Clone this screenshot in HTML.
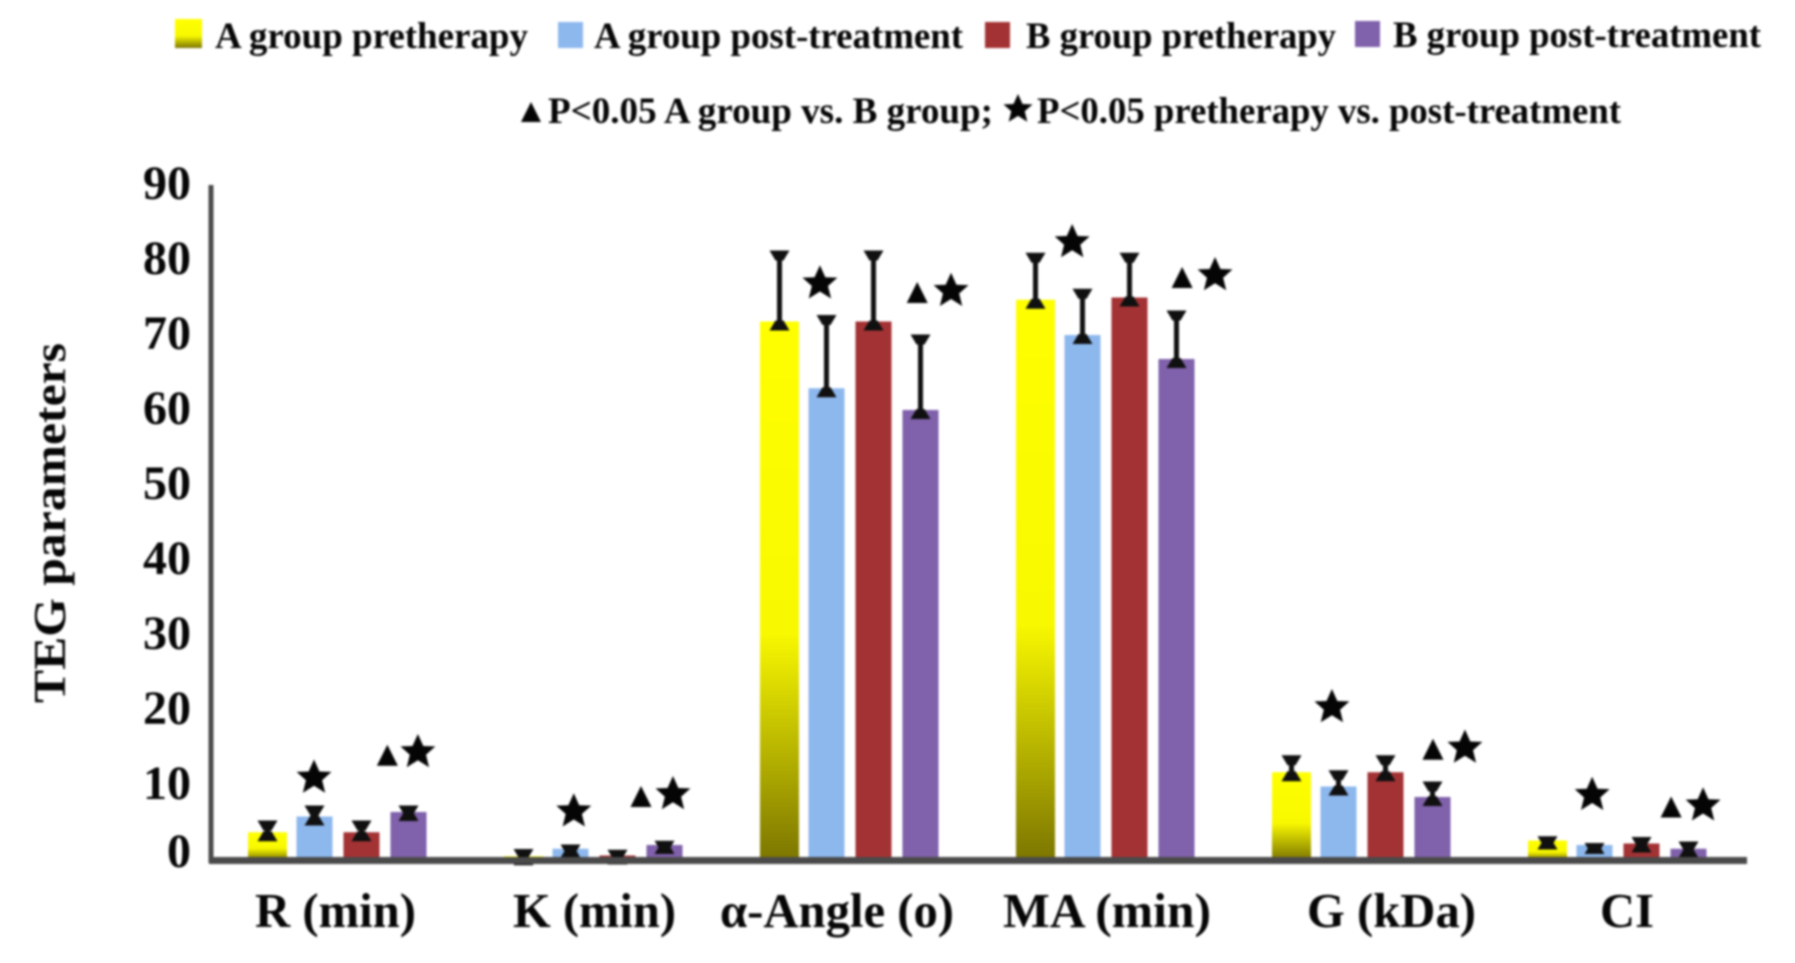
<!DOCTYPE html>
<html lang="en">
<head>
<meta charset="utf-8">
<title>TEG parameters by group</title>
<style>
  html, body { margin: 0; padding: 0; background: #ffffff; }
  body { width: 1795px; height: 963px; overflow: hidden; }
  svg { display: block; filter: blur(1px); }
  text { font-family: "Liberation Serif", "DejaVu Serif", serif; font-weight: bold; fill: #060606; }
  .legend-text { font-size: 37px; }
  .note-text { font-size: 37px; }
  .tick { font-size: 48px; }
  .cat { font-size: 49px; }
  .ytitle { font-size: 46px; }
</style>
</head>
<body>
<svg id="chart" xmlns="http://www.w3.org/2000/svg" width="1795" height="963" viewBox="0 0 1795 963">
  <defs>
    <linearGradient id="yellow-grad" x1="0" y1="0" x2="0" y2="1">
      <stop offset="0" stop-color="#ffff00"/>
      <stop offset="0.58" stop-color="#f8f800"/>
      <stop offset="1" stop-color="#7c7600"/>
    </linearGradient>
    <symbol id="star-shape" viewBox="-1 -1 2 2" overflow="visible">
      <polygon points="0,-1 0.3,-0.33 0.97,-0.31 0.45,0.15 0.62,0.85 0,0.46 -0.62,0.85 -0.45,0.15 -0.97,-0.31 -0.3,-0.33" fill="#050505"/>
    </symbol>
  </defs>

  <g>
    <rect x="175" y="19" width="27" height="29" fill="url(#yellow-grad)"/>
    <text class="legend-text" x="215" y="48" textLength="313" lengthAdjust="spacingAndGlyphs">A group pretherapy</text>
    <rect x="558" y="22" width="25" height="26" fill="#8db8ee"/>
    <text class="legend-text" x="594" y="48" textLength="369" lengthAdjust="spacingAndGlyphs">A group post-treatment</text>
    <rect x="985" y="22" width="25" height="26" fill="#a33234"/>
    <text class="legend-text" x="1026" y="48" textLength="310" lengthAdjust="spacingAndGlyphs">B group pretherapy</text>
    <rect x="1355" y="21" width="25" height="26" fill="#8061ab"/>
    <text class="legend-text" x="1393" y="47" textLength="368" lengthAdjust="spacingAndGlyphs">B group post-treatment</text>
  </g>

  <g>
    <polygon points="531,102 541,122 521,122" fill="#050505"/>
    <text class="note-text" x="548" y="123" textLength="445" lengthAdjust="spacingAndGlyphs">P&lt;0.05 A group vs. B group;</text>
    <use href="#star-shape" x="1003" y="94" width="30" height="30"/>
    <text class="note-text" x="1037" y="123" textLength="584" lengthAdjust="spacingAndGlyphs">P&lt;0.05 pretherapy vs. post-treatment</text>
  </g>

  <text class="ytitle" transform="translate(65,703) rotate(-90)" x="0" y="0" textLength="360" lengthAdjust="spacingAndGlyphs">TEG parameters</text>

  <g id="ticks"></g>
  <g id="bars"></g>
  <g id="errors"></g>
  <g id="markers"></g>

  <g>
    <rect x="208.5" y="185" width="5" height="678" fill="#4a4a4a"/>
    <rect x="209" y="857" width="1538" height="7" fill="#4a4a4a"/>
  </g>

  <g>
    <text class="cat" x="255" y="927" textLength="161" lengthAdjust="spacingAndGlyphs">R (min)</text>
    <text class="cat" x="513" y="927" textLength="163" lengthAdjust="spacingAndGlyphs">K (min)</text>
    <text class="cat" x="720" y="927" textLength="234" lengthAdjust="spacingAndGlyphs">α-Angle (o)</text>
    <text class="cat" x="1003" y="927" textLength="208" lengthAdjust="spacingAndGlyphs">MA (min)</text>
    <text class="cat" x="1307" y="927" textLength="169" lengthAdjust="spacingAndGlyphs">G (kDa)</text>
    <text class="cat" x="1600" y="927" textLength="54" lengthAdjust="spacingAndGlyphs">CI</text>
  </g>
</svg>

<script>
// ---- chart data ----
const categories = ["R", "K", "alpha-angle", "MA", "G", "CI"];
const seriesNames = ["a-pretherapy", "a-post-treatment", "b-pretherapy", "b-post-treatment"];
const tickValues = [90, 80, 70, 60, 50, 40, 30, 20, 10, 0];

const aPre = [3.7, 0.5, 71.8, 74.7, 11.7, 2.6];
const aPost = [5.8, 1.5, 62.9, 70.0, 9.8, 2.0];
const bPre = [3.7, 0.6, 71.8, 75.0, 11.7, 2.2];
const bPost = [6.4, 2.0, 60.0, 66.8, 8.4, 1.5];

const aPreErr = [5.0, 1.2, 81.0, 80.7, 13.7, 2.9];
const aPostErr = [7.0, 1.8, 72.4, 75.9, 11.7, 2.0];
const bPreErr = [5.0, 1.1, 81.0, 80.7, 13.7, 2.8];
const bPostErr = [7.0, 2.3, 69.8, 73.0, 10.2, 2.2];

// significance markers: category index, position within group (in bar slots), height in axis units
const starCategory = [0, 0, 1, 1, 2, 2, 3, 3, 4, 4, 5, 5];
const starSlot = [-0.51, 1.70, -0.43, 1.68, -0.64, 2.15, -0.72, 2.32, -0.64, 2.19, -0.55, 1.81];
const starValue = [11.0, 14.4, 6.5, 8.8, 76.9, 75.9, 82.4, 78.0, 20.4, 15.0, 8.7, 7.3];
const triCategory = [0, 1, 2, 3, 4, 5];
const triSlot = [1.05, 1.0, 1.43, 1.62, 1.51, 1.13];
const triValue = [13.9, 8.4, 75.6, 77.6, 14.7, 7.0];

const barValues = [aPre, aPost, bPre, bPost];
const errorValues = [aPreErr, aPostErr, bPreErr, bPostErr];

// ---- scales ----
const NS = "http://www.w3.org/2000/svg";
const BASE_Y = 860;
const UNIT_PX = 7.5;
const GROUP_START = 338;
const GROUP_STEP = 256;
const BAR_PITCH = 47;
const BAR_WIDTH = 36;

function yScale(v) { return BASE_Y - v * UNIT_PX; }
function groupCenter(i) { return GROUP_START + GROUP_STEP * i; }
function slotX(groupIndex, slot) { return groupCenter(groupIndex) + slot * BAR_PITCH; }
function seriesX(groupIndex, s) { return slotX(groupIndex, s - 1.5); }
function tickY(v) { return v === 0 ? 867 : 199 + (90 - v) * 7.5; }

function make(tag, attrs, parent) {
  const node = document.createElementNS(NS, tag);
  Object.keys(attrs).forEach(function (k) { node.setAttribute(k, attrs[k]); });
  parent.appendChild(node);
  return node;
}

const fills = ["url(#yellow-grad)", "#8db8ee", "#a33234", "#8061ab"];

const tickLayer = document.getElementById("ticks");
tickValues.forEach(function (v) {
  const t = make("text", { class: "tick", x: 191, y: tickY(v), "text-anchor": "end" }, tickLayer);
  
  
  t.textContent = String(v);
});

const barLayer = document.getElementById("bars");
const errorLayer = document.getElementById("errors");
categories.forEach(function (cat, g) {
  seriesNames.forEach(function (name, s) {
    const value = barValues[s][g];
    const err = errorValues[s][g];
    const cx = seriesX(g, s);
    const w = s === 0 ? BAR_WIDTH + 3 : BAR_WIDTH;
    const top = yScale(value);

    const bar = make("rect", { x: cx - w / 2, y: top, width: w, height: BASE_Y - top, fill: fills[s] }, barLayer);
    
    

    const errTop = yScale(err);
    const errBottom = top + 7;
    const whisker = make("line", { x1: cx, x2: cx, y1: errTop, y2: errBottom, stroke: "#101010", "stroke-width": 5 }, errorLayer);
    
    

    const capTop = make("polygon", { points: (cx - 10) + "," + (errTop - 2) + " " + (cx + 10) + "," + (errTop - 2) + " " + (cx + 4) + "," + (errTop + 8) + " " + (cx - 4) + "," + (errTop + 8), fill: "#101010" }, errorLayer);
    
    

    const capBottom = make("polygon", { points: (cx - 4) + "," + (errBottom - 8) + " " + (cx + 4) + "," + (errBottom - 8) + " " + (cx + 10) + "," + (errBottom + 2) + " " + (cx - 10) + "," + (errBottom + 2), fill: "#101010" }, errorLayer);
    
    
  });
});

const markerLayer = document.getElementById("markers");
starValue.forEach(function (v, i) {
  const cx = slotX(starCategory[i], starSlot[i]);
  const cy = yScale(v);
  const star = make("use", { href: "#star-shape", x: cx - 18, y: cy - 18, width: 36, height: 36 }, markerLayer);
  
  
});
triValue.forEach(function (v, i) {
  const cx = slotX(triCategory[i], triSlot[i]);
  const cy = yScale(v);
  const tri = make("polygon", { points: cx + "," + (cy - 11) + " " + (cx + 10.5) + "," + (cy + 10) + " " + (cx - 10.5) + "," + (cy + 10), fill: "#050505" }, markerLayer);
  
  
});
</script>
</body>
</html>
